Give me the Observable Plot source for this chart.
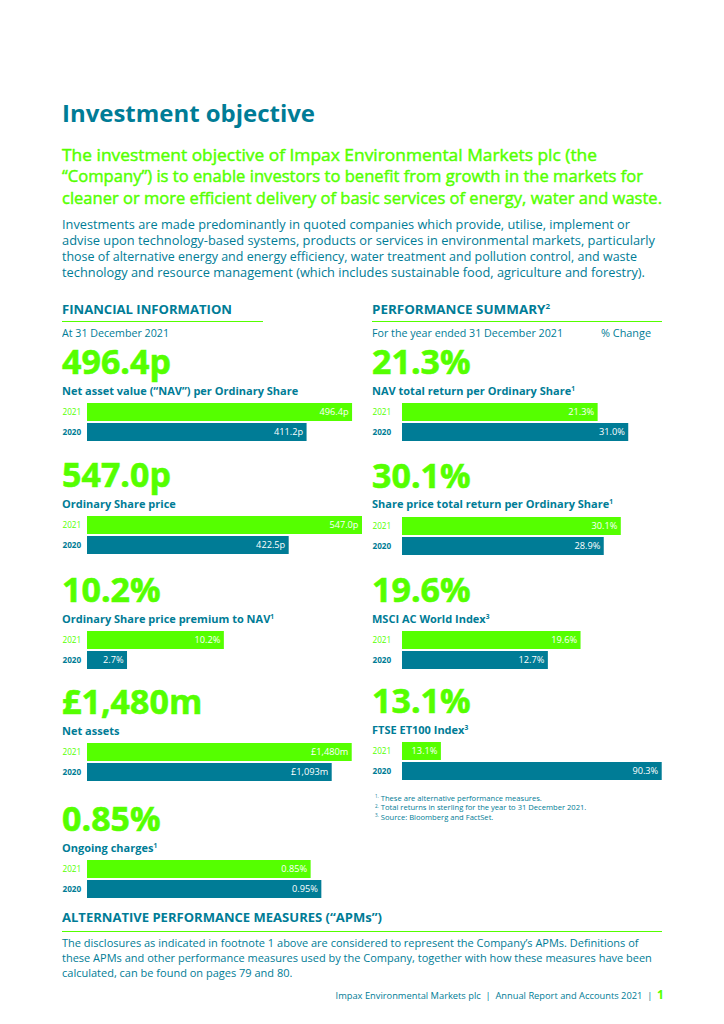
<!DOCTYPE html>
<html><head><meta charset="utf-8">
<script src="https://cdn.jsdelivr.net/npm/d3@7"></script>
<script src="https://cdn.jsdelivr.net/npm/@observablehq/plot@0.6"></script>
<style>
body{margin:0;background:#fff;font-family:"Open Sans",sans-serif;color:#007c96}
#page{position:relative;width:724px;height:1024px;overflow:hidden;background:#fff}
.t{position:absolute;white-space:nowrap;line-height:1;transform-origin:0 0}
.rule{position:absolute;height:1px;background:#55ff00}
sup{font-size:0.6em;vertical-align:0;position:relative;top:-0.6em}
</style></head><body><div id="page"></div>
<script>
// ---------- data ----------
const years = ["2021", "2020"];
const finNames = ["Net asset value (\u201cNAV\u201d) per Ordinary Share", "Ordinary Share price", "Ordinary Share price premium to NAV", "Net assets", "Ongoing charges"];
const finNotes = ["", "", "1", "", "1"];
const fin2021 = [496.4, 547.0, 10.2, 1480, 0.85];
const fin2020 = [411.2, 422.5, 2.7, 1093, 0.95];
const finLabels2021 = ["496.4p", "547.0p", "10.2%", "\u00a31,480m", "0.85%"];
const finLabels2020 = ["411.2p", "422.5p", "2.7%", "\u00a31,093m", "0.95%"];

const perfNames = ["NAV total return per Ordinary Share", "Share price total return per Ordinary Share", "MSCI AC World Index", "FTSE ET100 Index"];
const perfNotes = ["1", "1", "3", "3"];
const perf2021 = [21.3, 30.1, 19.6, 13.1];
const perf2020 = [31.0, 28.9, 12.7, 90.3];
const perfLabels2021 = ["21.3%", "30.1%", "19.6%", "13.1%"];
const perfLabels2020 = ["31.0%", "28.9%", "12.7%", "90.3%"];

const footnotes = ["These are alternative performance measures.", "Total returns in sterling for the year to 31 December 2021.", "Source: Bloomberg and FactSet."];

// ---------- scale / layout config ----------
const GREEN = "#55ff00", TEAL = "#007c96";
const finDomains = [[0, 515], [80, 547], [-0.4, 20.9], [-3640, 1679], [-1.24, 1.33]];
const perfDomains = [[-40.7, 41.7], [14.7, 33.0], [-18.1, 36.8], [-0.5, 90.4]];
const finTops = [402, 515, 630, 742, 859];
const perfTops = [402, 515.5, 630, 741];

const page = document.getElementById("page");
const ASC = 0.888; // baseline offset (Open Sans, line-height 1)
function txt(html, x, baseline, fs, opts = {}) {
  const d = document.createElement("div");
  d.className = "t";
  d.innerHTML = html;
  d.style.left = x + "px";
  d.style.top = (baseline - ASC * fs) + "px";
  d.style.fontSize = fs + "px";
  d.style.color = opts.color || TEAL;
  d.style.fontWeight = opts.weight || 400;
  if (opts.stroke) d.style.webkitTextStroke = opts.stroke + "px " + (opts.color || TEAL);
  page.appendChild(d);
  if (opts.w) {
    const w = d.getBoundingClientRect().width;
    d.style.transform = `scaleX(${opts.w / w})`;
  }
  if (opts.right != null) {
    const w = d.getBoundingClientRect().width;
    d.style.left = (opts.right - w) + "px";
  }
  return d;
}
function rule(x1, x2, y) {
  const r = document.createElement("div");
  r.className = "rule";
  r.style.left = x1 + "px"; r.style.width = (x2 - x1) + "px"; r.style.top = y + "px";
  page.appendChild(r);
}

// ---------- header text ----------
txt("Investment objective", 62, 122.5, 24, {weight: 700, w: 253});
const greenLines = ["The investment objective of Impax Environmental Markets plc (the",
  "\u201cCompany\u201d) is to enable investors to benefit from growth in the markets for",
  "cleaner or more efficient delivery of basic services of energy, water and waste."];
const greenW = [535, 581, 600];
greenLines.forEach((l, i) => txt(l, 62, 161.5 + i * 21.5, 16.5, {color: GREEN, weight: 400, stroke: 0.45, w: greenW[i]}));
const bodyLines = ["Investments are made predominantly in quoted companies which provide, utilise, implement or",
  "advise upon technology-based systems, products or services in environmental markets, particularly",
  "those of alternative energy and energy efficiency, water treatment and pollution control, and waste",
  "technology and resource management (which includes sustainable food, agriculture and forestry)."];
const bodyW = [568, 593, 575, 583];
bodyLines.forEach((l, i) => txt(l, 62, 229.5 + i * 16.2, 12.3, {w: bodyW[i]}));

txt("FINANCIAL INFORMATION", 62, 315, 12.5, {weight: 700, w: 170});
rule(62, 263, 321);
txt("PERFORMANCE SUMMARY<sup>2</sup>", 372, 315, 12.5, {weight: 700, w: 178});
rule(372, 662, 321);
txt("At 31 December 2021", 62, 337.5, 10.8, {w: 107});
txt("For the year ended 31 December 2021", 372, 337.5, 10.8, {w: 191});
txt("% Change", 601, 337.5, 10.8, {w: 50});

// ---------- bar charts ----------
function barChart(v21, v20, l21, l20, domain, x0, top, width, ml) {
  const rows = [{year: years[0], value: v21, label: l21}, {year: years[1], value: v20, label: l20}];
  const chart = Plot.plot({
    width, height: 39, marginLeft: ml, marginRight: 0, marginTop: 0, marginBottom: 0,
    x: {domain, axis: null},
    y: {domain: years, axis: null, paddingInner: 0.1, paddingOuter: 0},
    color: {domain: years, range: [GREEN, TEAL]},
    style: {fontFamily: "Open Sans", overflow: "visible", background: "transparent"},
    marks: [
      Plot.barX(rows, {x1: domain[0], x2: "value", y: "year", fill: "year"}),
      Plot.text(rows, {x: "value", y: "year", text: "label", textAnchor: "end", dx: -4, fill: "white", fontSize: 9.2}),
      Plot.text(rows.filter(d => d.year === years[0]), {y: "year", text: "year", frameAnchor: "left", textAnchor: "start", dx: -ml, fill: GREEN, fontSize: 8.2}),
      Plot.text(rows.filter(d => d.year === years[1]), {y: "year", text: "year", frameAnchor: "left", textAnchor: "start", dx: -ml, fill: TEAL, fontSize: 8.2, fontWeight: 700})
    ]
  });
  chart.style.position = "absolute";
  chart.style.left = x0 + "px";
  chart.style.top = top + "px";
  page.appendChild(chart);
}

function block(name, note, v21, v20, l21, l20, domain, x0, top, width, ml) {
  txt(l21, x0, top - 27.5, 34, {color: GREEN, weight: 700, stroke: 0.6});
  txt(name + (note ? `<sup>${note}</sup>` : ""), x0, top - 7.5, 11, {weight: 700});
  barChart(v21, v20, l21, l20, domain, x0, top, width, ml);
}

finNames.forEach((n, i) => block(n, finNotes[i], fin2021[i], fin2020[i], finLabels2021[i], finLabels2020[i], finDomains[i], 62, finTops[i], 300, 25));
perfNames.forEach((n, i) => block(n, perfNotes[i], perf2021[i], perf2020[i], perfLabels2021[i], perfLabels2020[i], perfDomains[i], 372, perfTops[i], 290, 30));

// ---------- footnotes ----------
footnotes.forEach((f, i) => txt(`<sup>${i + 1}.</sup> ` + f, 375, 801.5 + i * 9.7, 7.6));

// ---------- APMs ----------
txt("ALTERNATIVE PERFORMANCE MEASURES (\u201cAPMs\u201d)", 62, 923, 12.5, {weight: 700, w: 320});
rule(62, 662, 931);
const apmLines = ["The disclosures as indicated in footnote 1 above are considered to represent the Company\u2019s APMs. Definitions of",
  "these APMs and other performance measures used by the Company, together with how these measures have been",
  "calculated, can be found on pages 79 and 80."];
apmLines.forEach((l, i) => txt(l, 62, 946.5 + i * 15, 11));

txt("Impax Environmental Markets plc&nbsp;&nbsp;|&nbsp;&nbsp;Annual Report and Accounts 2021&nbsp;&nbsp;|&nbsp;&nbsp;<span style=\"color:#55ff00;font-weight:700;font-size:1.3em\">1</span>", 0, 997, 9.3, {right: 664});
</script></body></html>
